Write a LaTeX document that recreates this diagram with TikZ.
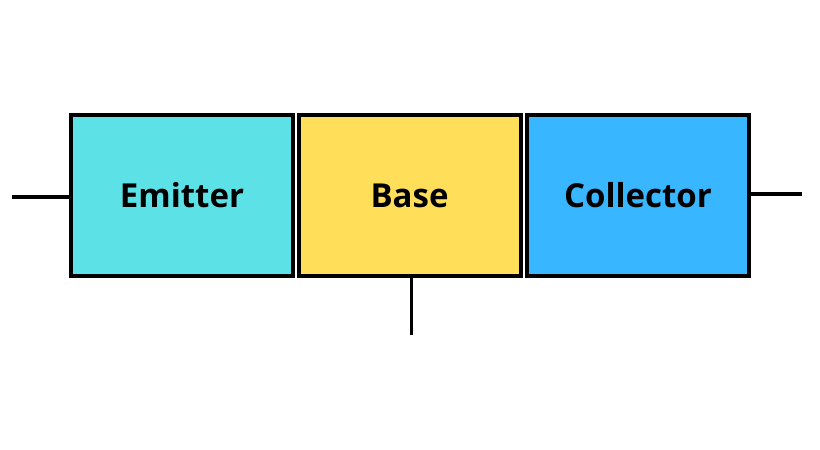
\documentclass[tikz,border=0pt]{standalone}
\usepackage{fontspec}
\setmainfont{Open Sans}
\begin{document}
\begin{tikzpicture}[x=1pt,y=-1pt,
  region/.style={draw=black,line width=4pt,minimum width=222pt,minimum height=161pt,inner sep=0pt,
    font=\fontsize{33}{38}\selectfont\bfseries,text=black},
  lead/.style={draw=black,line width=3.5pt}]
\useasboundingbox (0,0) rectangle (820,450);
\definecolor{emc}{HTML}{5CE1E6}
\definecolor{bac}{HTML}{FFDE59}
\definecolor{coc}{HTML}{38B6FF}
\node[region,fill=emc] (e) at (182,195.5) {\raisebox{-1pt}{Emitter}};
\node[region,fill=bac] (b) at (409.5,195.5) {\raisebox{-1pt}{Base}};
\node[region,fill=coc] (c) at (638,195.5) {\raisebox{-1pt}{Collector}};
\coordinate (le) at (12,197);
\coordinate (re) at (802,194);
\coordinate (be) at (411.5,335);
\draw[lead] (le) -- (le -| e.west);
\draw[lead] (re -| c.east) -- (re);
\draw[lead] (be |- b.south) -- (be);
\end{tikzpicture}
\end{document}
